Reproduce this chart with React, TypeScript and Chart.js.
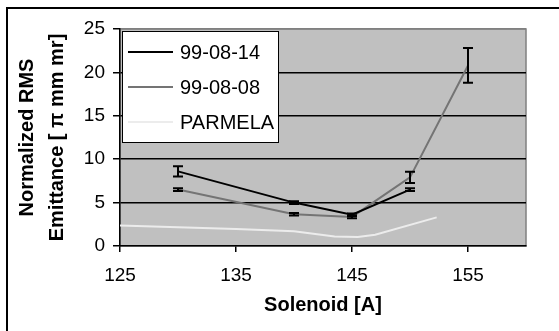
import React, { useEffect, useRef } from 'react';
import { Chart, registerables } from 'chart.js';

Chart.register(...registerables);

const seriesLabels = ['99-08-14', '99-08-08', 'PARMELA'];
const solenoid14 = [130, 140, 145, 150];
const emittance14 = [8.6, 5.0, 3.6, 6.5];
const error14 = [0.6, 0.15, 0.15, 0.15];
const solenoid08 = [130, 140, 145, 150, 155];
const emittance08 = [6.5, 3.65, 3.35, 7.9, 20.8];
const error08 = [0.15, 0.15, 0.15, 0.65, 2.0];
const solenoidParmela = [125, 130, 135, 140, 143.5, 145.5, 147, 152.3];
const emittanceParmela = [2.35, 2.15, 1.95, 1.7, 1.1, 1.05, 1.3, 3.3];
const xTicks = [125, 135, 145, 155];
const yTicks = [0, 5, 10, 15, 20, 25];
const xTitle = 'Solenoid [A]';
const yTitle = ['Normalized RMS', 'Emittance [ π mm mr]'];

const FONT = '"Liberation Sans", Arial, sans-serif';

const toPoints = (xs: number[], ys: number[]) => xs.map((x, i) => ({ x, y: ys[i] }));

const backgroundPlugin = {
  id: 'plotBackground',
  beforeDraw(chart: any) {
    const { ctx, chartArea: a } = chart;
    ctx.save();
    ctx.fillStyle = '#c0c0c0';
    ctx.fillRect(a.left, a.top, a.right - a.left, a.bottom - a.top);
    ctx.strokeStyle = '#808080';
    ctx.lineWidth = 1.5;
    ctx.strokeRect(a.left, a.top, a.right - a.left, a.bottom - a.top);
    ctx.strokeStyle = '#000';
    ctx.lineWidth = 2;
    ctx.beginPath();
    ctx.moveTo(7, 340);
    ctx.lineTo(7, 8);
    ctx.lineTo(570, 8);
    ctx.stroke();
    ctx.restore();
  },
};

const errorBarPlugin = {
  id: 'errorBars',
  afterDatasetsDraw(chart: any) {
    const { ctx } = chart;
    const xs = chart.scales.x;
    const ys = chart.scales.y;
    ctx.save();
    ctx.strokeStyle = '#000';
    ctx.lineWidth = 2;
    chart.data.datasets.forEach((ds: any) => {
      if (!ds.errors) return;
      ds.data.forEach((p: any, i: number) => {
        const e = ds.errors[i];
        const px = xs.getPixelForValue(p.x);
        const top = ys.getPixelForValue(p.y + e);
        const bot = ys.getPixelForValue(p.y - e);
        ctx.beginPath();
        ctx.moveTo(px, top);
        ctx.lineTo(px, bot);
        ctx.moveTo(px - 5, top);
        ctx.lineTo(px + 5, top);
        ctx.moveTo(px - 5, bot);
        ctx.lineTo(px + 5, bot);
        ctx.stroke();
      });
    });
    ctx.restore();
  },
};

const legendPlugin = {
  id: 'boxLegend',
  afterDraw(chart: any) {
    const { ctx, chartArea: a } = chart;
    const left = a.left + 2;
    const top = a.top + 2;
    const w = 156;
    const h = 111;
    ctx.save();
    ctx.fillStyle = '#fff';
    ctx.fillRect(left, top, w, h);
    ctx.strokeStyle = '#000';
    ctx.lineWidth = 1;
    ctx.strokeRect(left + 0.5, top + 0.5, w, h);
    ctx.font = `20px ${FONT}`;
    ctx.textBaseline = 'middle';
    ctx.textAlign = 'left';
    chart.data.datasets.forEach((ds: any, i: number) => {
      const y = top + 21 + i * 35;
      ctx.strokeStyle = ds.borderColor;
      ctx.lineWidth = 2;
      ctx.beginPath();
      ctx.moveTo(left + 6, y);
      ctx.lineTo(left + 51, y);
      ctx.stroke();
      ctx.fillStyle = '#000';
      ctx.fillText(ds.label, left + 58, y + 1);
    });
    ctx.restore();
  },
};

export default function App() {
  const ref = useRef<HTMLCanvasElement | null>(null);
  useEffect(() => {
    if (!ref.current) return;
    const chart = new Chart(ref.current, {
      type: 'line',
      data: {
        datasets: [
          {
            label: seriesLabels[0],
            data: toPoints(solenoid14, emittance14),
            errors: error14,
            borderColor: '#000000',
            borderWidth: 2,
            pointRadius: 0,
            tension: 0,
          } as any,
          {
            label: seriesLabels[1],
            data: toPoints(solenoid08, emittance08),
            errors: error08,
            borderColor: '#747474',
            borderWidth: 2,
            pointRadius: 0,
            tension: 0,
          } as any,
          {
            label: seriesLabels[2],
            data: toPoints(solenoidParmela, emittanceParmela),
            borderColor: '#ececec',
            borderWidth: 2,
            pointRadius: 0,
            tension: 0,
          } as any,
        ],
      },
      options: {
        responsive: false,
        animation: false,
        events: [],
        layout: { padding: { top: 29, right: 33, left: 0, bottom: 0 } },
        plugins: { legend: { display: false }, tooltip: { enabled: false } },
        scales: {
          x: {
            type: 'linear',
            min: 125,
            max: 160,
            afterBuildTicks: (s: any) => {
              s.ticks = xTicks.map((v) => ({ value: v }));
            },
            afterFit: (s: any) => {
              s.height = 85;
            },
            grid: { drawOnChartArea: false, tickLength: 6, color: '#000', lineWidth: 1.5 },
            border: { color: '#000', width: 1.5 },
            ticks: { color: '#000', font: { size: 19, family: FONT }, padding: 12, maxRotation: 0 },
            title: {
              display: true,
              text: xTitle,
              color: '#000',
              font: { size: 20, weight: 'bold', family: FONT, lineHeight: 1.2 },
              padding: { top: 0, bottom: 14 },
            },
          },
          y: {
            type: 'linear',
            min: 0,
            max: 25,
            afterBuildTicks: (s: any) => {
              s.ticks = yTicks.map((v) => ({ value: v }));
            },
            afterFit: (s: any) => {
              s.width = 120;
            },
            grid: {
              tickLength: 7,
              lineWidth: 1.5,
              color: (c: any) =>
                c.tick && c.tick.value === 25 ? '#808080' : c.tick && c.tick.value === 0 ? 'rgba(0,0,0,0)' : '#000',
              tickColor: '#000',
            },
            border: { color: '#000', width: 1.5 },
            ticks: { color: '#000', font: { size: 19, family: FONT }, padding: 8 },
            title: {
              display: true,
              text: yTitle,
              color: '#000',
              font: { size: 20, weight: 'bold', family: FONT, lineHeight: 1.5 },
              padding: { top: 12, bottom: 0 },
            },
          },
        },
      } as any,
      plugins: [backgroundPlugin, errorBarPlugin, legendPlugin],
    });
    return () => chart.destroy();
  }, []);
  return (
    <div style={{ position: 'absolute', left: 0, top: 0, width: 559, height: 331, background: '#fff' }}>
      <canvas ref={ref} width={559} height={331} style={{ display: 'block' }} />
    </div>
  );
}
